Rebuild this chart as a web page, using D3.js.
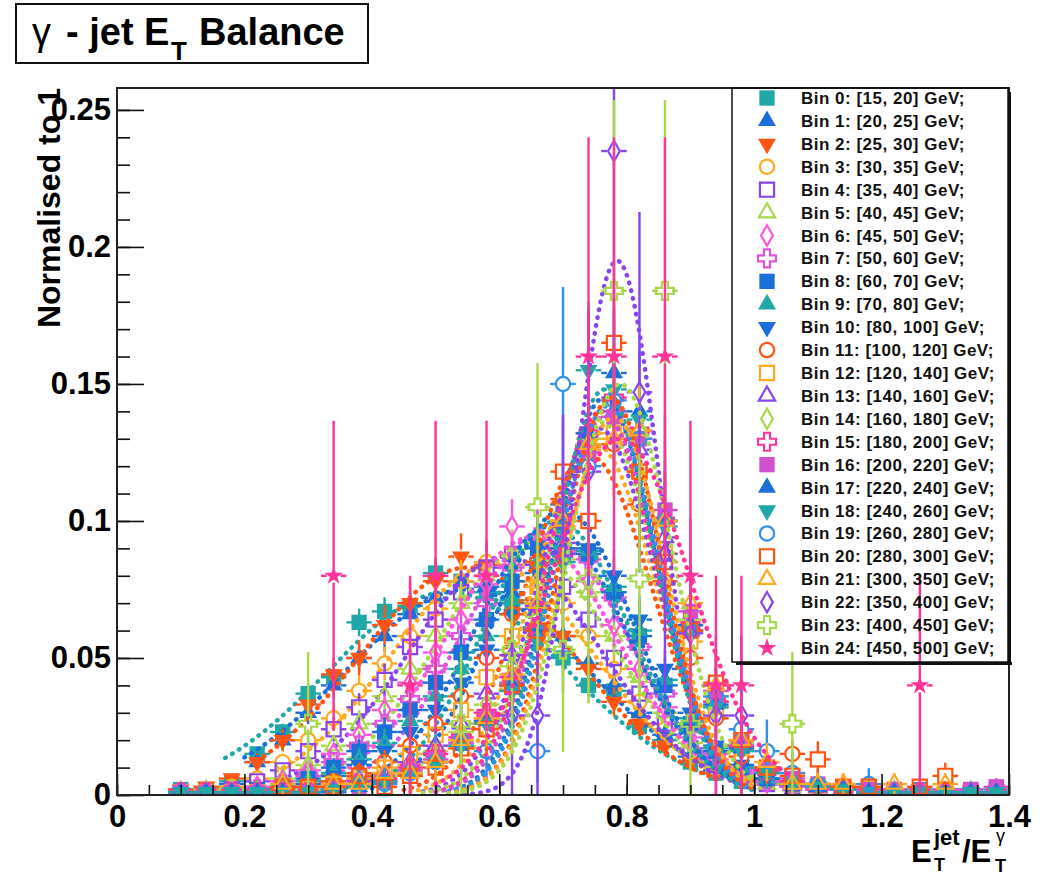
<!DOCTYPE html>
<html>
<head>
<meta charset="utf-8">
<script src="https://cdn.jsdelivr.net/npm/d3@7"></script>
<style>
body{margin:0;background:#fff;}
svg{display:block;font-family:"Liberation Sans",Arial,Helvetica,sans-serif;}
</style>
</head>
<body>
<script>
// bin centres of the E_T(jet)/E_T(gamma) histograms
var binCenters=[0.10,0.14,0.18,0.22,0.26,0.30,0.34,0.38,0.42,0.46,0.50,0.54,0.58,0.62,0.66,0.70,0.74,0.78,0.82,0.86,0.90,0.94,0.98,1.02,1.06,1.10,1.14,1.18,1.22,1.26,1.30,1.34,1.38];
var ptLow =[15,20,25,30,35,40,45,50,60,70,80,100,120,140,160,180,200,220,240,260,280,300,350,400,450];
var ptHigh=[20,25,30,35,40,45,50,60,70,80,100,120,140,160,180,200,220,240,260,280,300,350,400,450,500];
var nEvents=[2500,1800,1200,1300,1200,1100,1000,900,800,700,900,600,500,450,400,350,300,300,250,120,300,250,34,38,25];

// normalised contents, one array per photon E_T bin
var v0 =[0.002,0.002,0.005,0.015,0.023,0.037,0.043,0.063,0.067,0.069,0.081,0.078,0.074,0.070,0.060,0.050,0.040,0.038,0.025,0.020,0.012,0.008,0.005,0.004,0.003,0.002,0.002,0.002,0.002,0.002,0.002,0.002,0.002];
var v1 =[0.001,0.002,0.004,0.012,0.020,0.030,0.040,0.050,0.058,0.066,0.072,0.078,0.076,0.074,0.068,0.058,0.048,0.040,0.030,0.022,0.014,0.009,0.006,0.004,0.003,0.003,0.002,0.002,0.002,0.001,0.001,0.001,0.001];
var v2 =[0.002,0.003,0.006,0.012,0.020,0.033,0.044,0.050,0.062,0.070,0.078,0.087,0.084,0.078,0.070,0.058,0.046,0.034,0.026,0.018,0.012,0.008,0.005,0.004,0.003,0.002,0.002,0.001,0.001,0.001,0.001,0.001,0.001];
var v3 =[0.001,0.002,0.003,0.006,0.012,0.020,0.028,0.038,0.048,0.058,0.068,0.078,0.085,0.084,0.078,0.070,0.058,0.046,0.034,0.024,0.016,0.010,0.006,0.004,0.003,0.002,0.002,0.001,0.001,0.001,0.001,0.001,0.001];
var v4 =[0.001,0.001,0.002,0.005,0.009,0.016,0.024,0.032,0.042,0.054,0.064,0.074,0.083,0.088,0.084,0.076,0.064,0.050,0.037,0.026,0.017,0.011,0.007,0.004,0.003,0.002,0.002,0.001,0.001,0.001,0.001,0.001,0.001];
var v5 =[0.001,0.001,0.002,0.003,0.006,0.011,0.018,0.026,0.036,0.046,0.058,0.070,0.080,0.088,0.092,0.086,0.074,0.058,0.043,0.030,0.019,0.012,0.007,0.004,0.003,0.002,0.002,0.001,0.001,0.001,0.001,0.001,0.001];
var v6 =[0.001,0.001,0.001,0.003,0.005,0.009,0.015,0.022,0.031,0.041,0.052,0.064,0.077,0.098,0.094,0.090,0.078,0.062,0.046,0.032,0.021,0.013,0.008,0.005,0.003,0.002,0.002,0.001,0.001,0.001,0.001,0.001,0.001];
var v7 =[0.001,0.001,0.001,0.002,0.004,0.007,0.012,0.018,0.026,0.035,0.046,0.058,0.070,0.083,0.094,0.097,0.086,0.072,0.054,0.037,0.024,0.015,0.009,0.005,0.003,0.002,0.002,0.001,0.001,0.001,0.001,0.001,0.001];
var v8 =[0.001,0.001,0.001,0.002,0.003,0.006,0.010,0.016,0.023,0.031,0.041,0.052,0.064,0.078,0.090,0.100,0.088,0.074,0.058,0.040,0.026,0.016,0.010,0.006,0.004,0.003,0.002,0.002,0.001,0.001,0.001,0.001,0.001];
var v9 =[0.001,0.001,0.001,0.002,0.003,0.005,0.008,0.013,0.019,0.027,0.036,0.046,0.058,0.071,0.085,0.102,0.089,0.076,0.060,0.042,0.028,0.017,0.010,0.006,0.004,0.003,0.002,0.002,0.001,0.001,0.001,0.001,0.001];
var v10=[0.001,0.001,0.001,0.001,0.002,0.004,0.007,0.011,0.016,0.023,0.031,0.041,0.053,0.066,0.081,0.106,0.090,0.080,0.064,0.046,0.030,0.018,0.011,0.006,0.004,0.003,0.002,0.001,0.001,0.001,0.001,0.001,0.001];
var v11=[0.001,0.001,0.001,0.001,0.002,0.003,0.005,0.008,0.012,0.018,0.026,0.036,0.050,0.066,0.085,0.108,0.127,0.128,0.106,0.078,0.050,0.028,0.014,0.010,0.015,0.004,0.003,0.002,0.001,0.001,0.001,0.001,0.001];
var v12=[0.001,0.001,0.001,0.001,0.001,0.002,0.004,0.006,0.010,0.015,0.022,0.031,0.043,0.058,0.076,0.098,0.126,0.132,0.118,0.088,0.056,0.032,0.017,0.009,0.005,0.003,0.002,0.002,0.001,0.001,0.001,0.001,0.001];
var v13=[0.001,0.001,0.001,0.001,0.001,0.002,0.003,0.005,0.008,0.012,0.018,0.026,0.037,0.051,0.069,0.092,0.128,0.140,0.126,0.094,0.060,0.034,0.018,0.009,0.005,0.003,0.002,0.001,0.001,0.001,0.001,0.001,0.001];
var v14=[0.001,0.001,0.001,0.001,0.001,0.002,0.003,0.004,0.007,0.011,0.016,0.023,0.033,0.047,0.065,0.090,0.130,0.138,0.130,0.100,0.064,0.036,0.019,0.010,0.005,0.003,0.002,0.001,0.001,0.001,0.001,0.001,0.001];
var v15=[0.001,0.001,0.001,0.001,0.001,0.001,0.002,0.004,0.006,0.010,0.015,0.021,0.030,0.043,0.061,0.088,0.132,0.145,0.133,0.100,0.062,0.034,0.018,0.009,0.005,0.003,0.002,0.001,0.001,0.001,0.001,0.001,0.001];
var v16=[0.001,0.001,0.001,0.001,0.001,0.001,0.002,0.003,0.005,0.009,0.013,0.019,0.028,0.041,0.060,0.088,0.125,0.138,0.130,0.104,0.067,0.038,0.020,0.010,0.006,0.004,0.003,0.002,0.002,0.001,0.002,0.002,0.003];
var v17=[0.001,0.001,0.001,0.001,0.001,0.001,0.001,0.003,0.005,0.008,0.012,0.018,0.027,0.040,0.060,0.090,0.132,0.154,0.140,0.100,0.062,0.033,0.017,0.008,0.004,0.003,0.002,0.001,0.001,0.001,0.001,0.001,0.001];
var v18=[0.001,0.001,0.001,0.001,0.001,0.001,0.002,0.003,0.005,0.008,0.012,0.018,0.026,0.038,0.056,0.085,0.155,0.148,0.137,0.098,0.060,0.032,0.016,0.008,0.004,0.003,0.002,0.001,0.001,0.001,0.001,0.001,0.001];
var v19=[0,0,0,0,0,0,0,0.004,0.004,0.008,0.012,0.020,0.016,0.040,0.016,0.150,0.120,0.144,0.130,0.100,0.060,0.036,0.024,0.016,0.008,0.004,0,0.004,0,0,0,0,0];
var v20=[0,0,0,0,0.003,0.003,0.003,0.007,0.003,0.007,0.010,0.017,0.024,0.040,0.060,0.118,0.100,0.165,0.118,0.085,0.060,0.041,0.020,0.010,0.007,0.013,0.003,0.003,0,0.003,0.007,0,0];
var v21=[0,0,0,0,0.004,0,0.004,0.004,0.008,0.008,0.012,0.020,0.028,0.044,0.070,0.100,0.128,0.130,0.133,0.100,0.070,0.040,0.020,0.012,0.004,0.004,0.004,0,0.004,0,0.004,0,0];
var v22=[0,0,0,0,0,0,0,0,0,0,0,0,0,0.029,0.029,0.088,0.118,0.235,0.147,0.088,0.059,0.029,0.029,0,0,0,0,0,0,0,0,0,0];
var v23=[0,0,0,0,0,0.026,0,0,0,0,0,0.026,0,0.053,0.105,0.053,0.079,0.184,0.079,0.184,0.026,0,0,0,0.026,0,0,0,0,0,0,0,0];
var v24=[0,0,0,0,0,0,0.08,0,0,0.04,0.08,0,0.08,0,0,0,0.16,0.16,0,0.16,0.08,0.04,0.04,0,0,0,0,0,0,0.04,0,0,0];
var seriesValues=[v0,v1,v2,v3,v4,v5,v6,v7,v8,v9,v10,v11,v12,v13,v14,v15,v16,v17,v18,v19,v20,v21,v22,v23,v24];

// gaussian fit results per bin
var fitMean =[0.52,0.55,0.55,0.59,0.61,0.64,0.65,0.67,0.68,0.69,0.70,0.74,0.75,0.755,0.76,0.76,0.765,0.765,0.765,0.77,0.775,0.78,0.785,0.79,0.79];
var fitSigma=[0.19,0.19,0.17,0.16,0.15,0.14,0.135,0.13,0.12,0.115,0.11,0.10,0.095,0.09,0.088,0.085,0.085,0.08,0.078,0.08,0.078,0.08,0.065,0.08,0.11];
var fitAmp  =[0.074,0.075,0.083,0.084,0.087,0.09,0.094,0.096,0.098,0.1,0.104,0.124,0.128,0.134,0.136,0.14,0.138,0.145,0.148,0.142,0.145,0.138,0.195,0.15,0.13];
var fitLo   =[0.17,0.2,0.22,0.25,0.27,0.3,0.32,0.34,0.36,0.38,0.4,0.45,0.46,0.48,0.48,0.5,0.5,0.52,0.52,0.52,0.52,0.52,0.52,0.52,0.5];
var fitHi   =[0.95,0.95,0.95,0.97,0.97,0.98,0.98,0.98,0.98,0.98,0.98,1.0,1.0,1.0,1.0,1.0,1.0,1.0,1.0,1.0,1.0,1.0,0.88,1.0,1.06];

var seriesColors=["#20a8a8","#1a70d8","#ff5511","#ffaa22","#8844ee","#a8d84c","#ff55dd","#dd55dd",
                  "#1a70d8","#20a8a8","#1a70d8","#ff5511","#ffaa22","#8844ee","#a8d84c","#ff3399",
                  "#d050d0","#1a70d8","#20a8a8","#3390e8","#ff5511","#ffaa22","#8844ee","#a8d84c","#ff3399"];
var seriesMarkers=["fsquare","ftriup","ftridown","ocircle","osquare","otriup","odiamond","ocross",
                   "fsquare","ftriup","ftridown","ocircle","osquare","otriup","odiamond","ocross",
                   "fsquare","ftriup","ftridown","ocircle","osquare","otriup","odiamond","ocross","fstar"];

var xTicks=[0,0.2,0.4,0.6,0.8,1,1.2,1.4];
var yTicks=[0,0.05,0.1,0.15,0.2,0.25];

var W=1044,H=876;
var frame={left:117,right:1009,top:88,bottom:795};
var binHalf=0.02;

var svg=d3.select("body").append("svg").attr("width",W).attr("height",H);

var x=d3.scaleLinear().domain([0,1.4]).range([frame.left,frame.right]);
var y=d3.scaleLinear().domain([0,0.258]).range([frame.bottom,frame.top]);

// marker shapes (ROOT styles 21,22,23,24,25,26,27,28,29)
var symbolOf={
  fsquare:[d3.symbolSquare,235,true,0],
  ftriup:[d3.symbolTriangle,140,true,0],
  ftridown:[d3.symbolTriangle,140,true,180],
  ocircle:[d3.symbolCircle,160,false,0],
  osquare:[d3.symbolSquare,200,false,0],
  otriup:[d3.symbolTriangle,115,false,0],
  odiamond:[d3.symbolDiamond,120,false,0],
  ocross:[d3.symbolCross,180,false,0],
  fstar:[d3.symbolStar,110,true,0]
};
function marker(g,name,color,cx,cy){
  var s=symbolOf[name];
  g.append("path")
    .attr("d",d3.symbol(s[0],s[1])())
    .attr("transform","translate("+cx+","+cy+") rotate("+s[3]+")")
    .attr("fill",s[2]?color:"none")
    .attr("stroke",s[2]?"none":color)
    .attr("stroke-width",2.2);
}

svg.append("clipPath").attr("id","frameclip").append("rect")
  .attr("x",frame.left).attr("y",frame.top)
  .attr("width",frame.right-frame.left).attr("height",frame.bottom-frame.top);

var plot=svg.append("g").attr("clip-path","url(#frameclip)");
var gap=7;
var fitLine=d3.line().x(function(d){return x(d[0]);}).y(function(d){return y(d[1]);});

seriesValues.forEach(function(vals,i){
  var col=seriesColors[i];
  var g=plot.append("g");
  vals.forEach(function(v,k){
    if(v<=0) return;
    var xc=x(binCenters[k]), yc=y(v);
    var err=Math.sqrt(v/nEvents[i]);
    var xl=x(binCenters[k]-binHalf), xr=x(binCenters[k]+binHalf);
    var eb=g.append("g").attr("stroke",col).attr("stroke-width",2.4);
    eb.append("line").attr("x1",xl).attr("x2",xc-gap).attr("y1",yc).attr("y2",yc);
    eb.append("line").attr("x1",xc+gap).attr("x2",xr).attr("y1",yc).attr("y2",yc);
    var yt=y(v+err), yb=y(Math.max(0,v-err));
    if(yc-gap>yt) eb.append("line").attr("x1",xc).attr("x2",xc).attr("y1",yt).attr("y2",yc-gap);
    if(yb>yc+gap) eb.append("line").attr("x1",xc).attr("x2",xc).attr("y1",yc+gap).attr("y2",yb);
    marker(g,seriesMarkers[i],col,xc,yc);
  });
  var pts=d3.range(fitLo[i],fitHi[i]+1e-9,0.004).map(function(t){
    var z=(t-fitMean[i])/fitSigma[i];
    return [t,fitAmp[i]*Math.exp(-0.5*z*z)];
  });
  g.append("path").attr("d",fitLine(pts)).attr("fill","none")
    .attr("stroke",col).attr("stroke-width",4.5)
    .attr("stroke-linecap","round").attr("stroke-dasharray","0.5,7.5");
});

// axes
var fmt=d3.format("~g");
var gx=svg.append("g").attr("transform","translate(0,"+frame.bottom+")")
  .call(d3.axisBottom(x).tickValues(xTicks).tickSize(-21).tickPadding(10).tickFormat(fmt));
var gxm=svg.append("g").attr("transform","translate(0,"+frame.bottom+")")
  .call(d3.axisBottom(x).tickValues(d3.range(0,1.4001,0.05)).tickSize(-10).tickFormat(""));
var gy=svg.append("g").attr("transform","translate("+frame.left+",0)")
  .call(d3.axisLeft(y).tickValues(yTicks).tickSize(-27).tickPadding(6).tickFormat(fmt));
var gym=svg.append("g").attr("transform","translate("+frame.left+",0)")
  .call(d3.axisLeft(y).tickValues(d3.range(0,0.2501,0.01)).tickSize(-13).tickFormat(""));
[gx,gxm,gy,gym].forEach(function(a){
  a.select(".domain").remove();
  a.selectAll(".tick line").attr("stroke","#111").attr("stroke-width",1.6);
  a.selectAll("text").attr("font-size",31).attr("font-weight","bold").attr("fill","#000")
   .attr("font-family","'Liberation Sans',Arial,Helvetica,sans-serif");
});

svg.append("rect").attr("x",frame.left).attr("y",frame.top)
  .attr("width",frame.right-frame.left).attr("height",frame.bottom-frame.top)
  .attr("fill","none").attr("stroke","#222").attr("stroke-width",2);

// axis titles
svg.append("text").attr("transform","translate(60,88) rotate(-90)")
  .attr("text-anchor","end").attr("font-size",32).attr("font-weight","bold")
  .text("Normalised to 1");

var xt=svg.append("g").attr("font-weight","bold");
xt.append("text").attr("x",911).attr("y",862).attr("font-size",31).text("E");
xt.append("text").attr("x",934).attr("y",845).attr("font-size",22).text("jet");
xt.append("text").attr("x",934).attr("y",871).attr("font-size",18).text("T");
xt.append("text").attr("x",962).attr("y",862).attr("font-size",31).text("/E");
xt.append("text").attr("x",996).attr("y",842).attr("font-size",18).attr("font-weight","normal").text("γ");
xt.append("text").attr("x",995).attr("y",872).attr("font-size",18).text("T");

// title box
svg.append("rect").attr("x",16).attr("y",4).attr("width",352).attr("height",59)
  .attr("fill","#fff").attr("stroke","#111").attr("stroke-width",2);
var tt=svg.append("text").attr("y",45).attr("font-size",38).attr("font-weight","bold");
tt.append("tspan").attr("x",32).attr("font-weight","normal").text("γ");
tt.append("tspan").attr("x",66).text("- jet E");
tt.append("tspan").attr("x",171).attr("dy",15).attr("font-size",26).text("T");
tt.append("tspan").attr("x",199).attr("dy",-15).text("Balance");

// legend
var lg=svg.append("g");
var lgBox={x0:732,x1:1008,y0:88,y1:662};
lg.append("rect").attr("x",lgBox.x0+4).attr("y",lgBox.y1).attr("width",lgBox.x1-lgBox.x0).attr("height",3).attr("fill","#111");
lg.append("rect").attr("x",lgBox.x1).attr("y",lgBox.y0+4).attr("width",3).attr("height",lgBox.y1-lgBox.y0-1).attr("fill","#111");
lg.append("rect").attr("x",lgBox.x0).attr("y",lgBox.y0).attr("width",lgBox.x1-lgBox.x0).attr("height",lgBox.y1-lgBox.y0)
  .attr("fill","none").attr("stroke","#111").attr("stroke-width",1.5);
var rowH=(648-98)/24;
seriesValues.forEach(function(v,i){
  var ry=98+i*rowH;
  marker(lg,seriesMarkers[i],seriesColors[i],767,ry);
  lg.append("text").attr("x",801).attr("y",ry+6).attr("font-size",17).attr("font-weight","bold")
    .attr("letter-spacing",0.5).attr("fill","#111")
    .text("Bin "+i+": ["+ptLow[i]+", "+ptHigh[i]+"] GeV;");
});
</script>
</body>
</html>
